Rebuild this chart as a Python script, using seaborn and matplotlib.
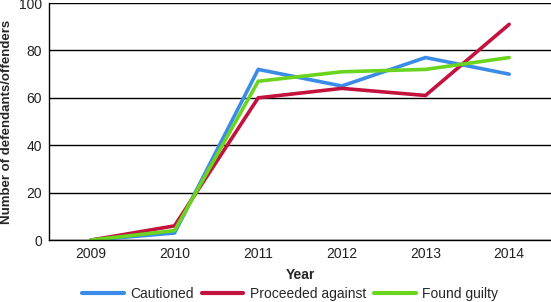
import matplotlib
matplotlib.use("Agg")
import matplotlib.pyplot as plt
import seaborn as sns
import pandas as pd

years = ["2009", "2010", "2011", "2012", "2013", "2014"]
cautioned = [0, 3, 72, 65, 77, 70]
proceeded = [0, 6, 60, 64, 61, 91]
found_guilty = [0, 4, 67, 71, 72, 77]
series_names = ["Cautioned", "Proceeded against", "Found guilty"]
colors = ["#3a8ce8", "#c4123f", "#6bd41e"]

df = pd.DataFrame({
    "Year": years * 3,
    "Value": cautioned + proceeded + found_guilty,
    "Series": [series_names[0]] * 6 + [series_names[1]] * 6 + [series_names[2]] * 6,
})

sns.set_theme(style="white")
plt.rcParams["font.family"] = ["Liberation Sans", "DejaVu Sans"]

fig = plt.figure(figsize=(5.51, 3.02), dpi=100)
ax = fig.add_axes([0.089, 0.205, 0.911, 0.785])
sns.lineplot(data=df, x="Year", y="Value", hue="Series", palette=colors,
             linewidth=2.6, ax=ax, sort=False)

ax.set_xlim(-0.5, 5.5)
ax.set_ylim(0, 100)
ax.set_yticks([0, 20, 40, 60, 80, 100])
ax.yaxis.grid(True, color="black", linewidth=1)
ax.set_axisbelow(True)
for s in ["top", "right"]:
    ax.spines[s].set_visible(False)
for s in ["left", "bottom"]:
    ax.spines[s].set_color("black")
    ax.spines[s].set_linewidth(1)
ax.tick_params(axis="both", length=0, labelsize=10, colors="#222222", pad=5)
ax.set_xlabel("Year", fontsize=10, fontweight="bold", labelpad=5)
ax.set_ylabel("Number of defendants/offenders", fontsize=9.5, fontweight="bold", labelpad=4)

leg = ax.legend(loc="upper center", bbox_to_anchor=(0.48, -0.197), ncol=3, frameon=False,
                fontsize=10, handlelength=3.0, columnspacing=0.6, handletextpad=0.45,
                borderaxespad=0, borderpad=0)
for line in leg.get_lines():
    line.set_linewidth(3)

fig.savefig("out.png", dpi=100)
